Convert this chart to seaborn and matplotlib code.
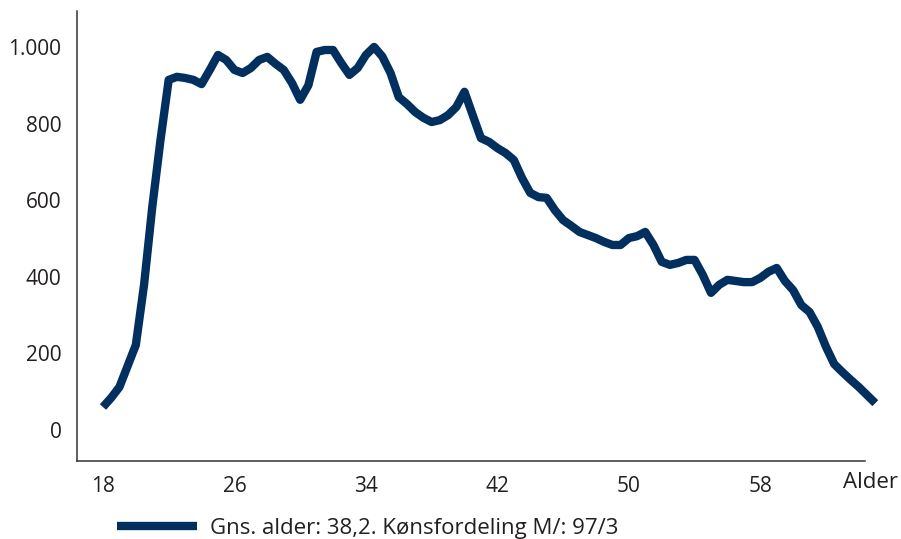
import pandas as pd
import matplotlib.pyplot as plt
import seaborn as sns

# ages (half-year steps) and number of people
ages = [a / 2 for a in range(36, 131)]
antall = [60, 84, 112, 167, 222, 379, 582, 757, 914, 922,
          919, 914, 903, 940, 979, 966, 940, 932, 945, 966,
          974, 956, 940, 906, 862, 900, 987, 992, 992, 958,
          927, 945, 979, 1000, 975, 932, 869, 851, 830, 815,
          804, 809, 822, 843, 883, 822, 762, 752, 736, 723,
          705, 658, 619, 608, 606, 574, 548, 533, 517, 509,
          501, 491, 483, 483, 501, 506, 517, 483, 439, 431,
          436, 444, 444, 405, 358, 379, 392, 389, 386, 386,
          397, 413, 423, 389, 365, 326, 308, 269, 217, 172,
          151, 131, 112, 91, 70]

x_ticks = [18, 26, 34, 42, 50, 58]
y_ticks = [0, 200, 400, 600, 800, 1000]
y_labels = ["0", "200", "400", "600", "800", "1.000"]
legend_text = "Gns. alder: 38,2. Kønsfordeling M/: 97/3"

df = pd.DataFrame({"alder": ages, "antall": antall})

sns.set_style("white")
plt.rcParams['font.family'] = ['Open Sans', 'DejaVu Sans']

fig = plt.figure(figsize=(9.01, 5.39), dpi=100)
ax = fig.add_axes([0.0851, 0.1447, 0.8955, 0.835])

line_col = "#01305f"
sns.lineplot(data=df, x="alder", y="antall", color=line_col, linewidth=6,
             ax=ax, label=legend_text, legend=False, clip_on=False)
for l in ax.lines:
    l.set_solid_joinstyle("round")
    l.set_solid_capstyle("butt")

ax.set_xlim(16.4, 65.5)
ax.set_ylim(-81, 1094)
ax.set_xticks(x_ticks)
ax.set_xticklabels([str(t) for t in x_ticks])
ax.set_yticks(y_ticks)
ax.set_yticklabels(y_labels)
ax.set_xlabel("")
ax.set_ylabel("")

txt_col = "#231f20"
ax.tick_params(axis="both", length=0, labelsize=15, labelcolor=txt_col, pad=11)

for s in ["top", "right"]:
    ax.spines[s].set_visible(False)
for s in ["left", "bottom"]:
    ax.spines[s].set_color("#333333")
    ax.spines[s].set_linewidth(1.1)
ax.spines["bottom"].set_bounds(16.4, 64.4)

fig.text(0.966, 0.104, "Alder", fontsize=16, color=txt_col, ha="center", va="center")

handles, labels = ax.get_legend_handles_labels()
fig.legend(handles, labels, loc="center left", bbox_to_anchor=(0.13, 0.02),
           frameon=False, fontsize=16, handlelength=3.6, handletextpad=0.6,
           borderpad=0, borderaxespad=0, labelcolor=txt_col)

fig.savefig("out.png", dpi=100)
